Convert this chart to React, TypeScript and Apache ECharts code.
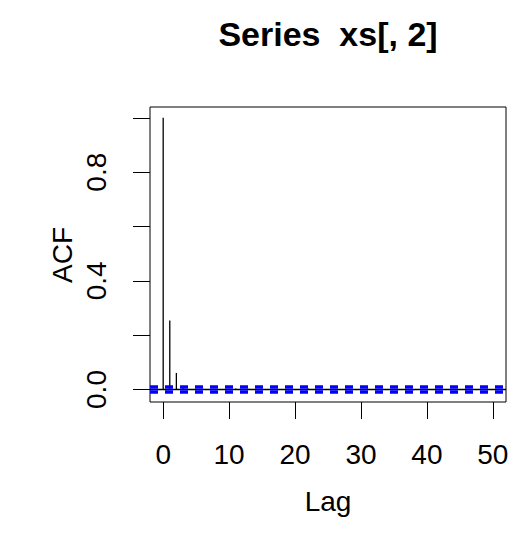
import React, { useEffect, useRef } from "react";
import * as echarts from "echarts";

const titleText = "Series  xs[, 2]";
const xAxisTitle = "Lag";
const yAxisTitle = "ACF";

const lags = [
  0, 1, 2, 3, 4, 5, 6, 7, 8, 9, 10, 11, 12, 13, 14, 15, 16, 17, 18, 19, 20,
  21, 22, 23, 24, 25, 26, 27, 28, 29, 30, 31, 32, 33, 34, 35, 36, 37, 38, 39,
  40, 41, 42, 43, 44, 45, 46, 47, 48, 49, 50,
];
const acfValues = [
  1.0, 0.254, 0.061, 0.013, 0.002, -0.001, 0.003, -0.002, 0.001, 0.0, -0.002,
  0.004, 0.001, 0.003, -0.001, 0.003, 0.0, -0.002, 0.001, -0.001, 0.0, 0.002,
  0.004, -0.001, 0.0, 0.001, -0.002, 0.0, 0.001, -0.001, 0.002, 0.004, 0.0,
  -0.001, 0.001, 0.0, -0.002, 0.001, -0.003, 0.0, 0.001, -0.001, 0.0, 0.002,
  -0.001, 0.0, 0.001, -0.001, 0.0, 0.001, 0.0,
];
const ciBound = 0.005;
const xTicks = [0, 10, 20, 30, 40, 50];
const yTicks = [0, 0.2, 0.4, 0.6, 0.8, 1.0];
const yLabels = [0, 0.4, 0.8];

const FONT = "Liberation Sans, Arial, Helvetica, sans-serif";

export default function App() {
  const ref = useRef<HTMLDivElement>(null);
  useEffect(() => {
    if (!ref.current) return;
    const chart = echarts.init(ref.current, undefined, { renderer: "svg" });
    const data = lags.map((l, i) => [l, acfValues[i]]);
    chart.setOption({
      animation: false,
      backgroundColor: "#ffffff",
      grid: {
        left: 150,
        top: 107,
        width: 356,
        height: 295,
        show: true,
        borderColor: "#000000",
        borderWidth: 1,
        backgroundColor: "transparent",
      },
      xAxis: {
        type: "value",
        min: -2,
        max: 52,
        splitLine: { show: false },
        axisLine: { show: false, onZero: false },
        axisTick: {
          show: true,
          inside: false,
          length: 17,
          customValues: xTicks,
          lineStyle: { color: "#000", width: 1 },
        },
        axisLabel: {
          show: true,
          customValues: xTicks,
          margin: 38,
          color: "#000",
          fontSize: 28,
          fontFamily: FONT,
          formatter: (v: number) => String(v),
        },
      },
      yAxis: {
        type: "value",
        min: -0.046,
        max: 1.04,
        splitLine: { show: false },
        axisLine: { show: false, onZero: false },
        axisTick: {
          show: true,
          inside: false,
          length: 17,
          customValues: yTicks,
          lineStyle: { color: "#000", width: 1 },
        },
        axisLabel: {
          show: true,
          customValues: yLabels,
          rotate: 90,
          margin: 40,
          color: "#000",
          fontSize: 28,
          fontFamily: FONT,
          formatter: (v: number) => v.toFixed(1),
        },
      },
      graphic: [
        {
          type: "text",
          x: 328,
          y: 34,
          style: {
            text: titleText,
            fill: "#000",
            font: `bold 34px ${FONT}`,
            textAlign: "center",
            textVerticalAlign: "middle",
          },
        },
        {
          type: "text",
          x: 328,
          y: 501,
          style: {
            text: xAxisTitle,
            fill: "#000",
            font: `28px ${FONT}`,
            textAlign: "center",
            textVerticalAlign: "middle",
          },
        },
        {
          type: "text",
          x: 62,
          y: 255,
          rotation: Math.PI / 2,
          style: {
            text: yAxisTitle,
            fill: "#000",
            font: `28px ${FONT}`,
            textAlign: "center",
            textVerticalAlign: "middle",
          },
        },
      ],
      series: [
        {
          type: "bar",
          data,
          barWidth: 1.3,
          itemStyle: { color: "#000" },
          silent: true,
          z: 2,
          markLine: {
            silent: true,
            symbol: "none",
            label: { show: false },
            lineStyle: { color: "#000", width: 1.3, type: "solid" },
            data: [{ yAxis: 0 }],
          },
        },
        {
          type: "line",
          data: [],
          silent: true,
          z: 5,
          markLine: {
            silent: true,
            symbol: "none",
            label: { show: false },
            lineStyle: { color: "#0000ff", width: 3.5, type: [8, 7], opacity: 1 },
            data: [{ yAxis: ciBound }, { yAxis: -ciBound }],
          },
        },
      ],
    });
    return () => chart.dispose();
  }, []);
  return (
    <div
      ref={ref}
      style={{ position: "absolute", left: 0, top: 0, width: 516, height: 548 }}
    />
  );
}
